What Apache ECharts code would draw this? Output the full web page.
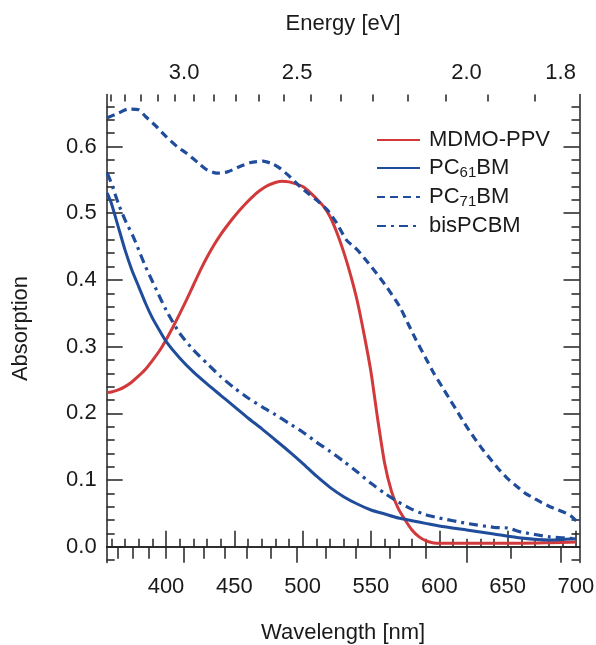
<!DOCTYPE html>
<html><head><meta charset="utf-8">
<script src="https://cdn.jsdelivr.net/npm/echarts@6/dist/echarts.min.js"></script>
<style>html,body{margin:0;padding:0;background:#fff}#c{width:596px;height:645px}</style>
</head><body><div id="c"></div>
<script>
// ---- data ----
const wlRed  = [357,360,365,370,375,380,385,390,395,400,405,410,415,420,425,430,435,440,445,450,455,460,465,470,475,480,485,490,495,500,505,510,515,520,525,530,535,540,545,550,555,560,565,570,575,580,585,590,595,600,620,650,680,700];
const absRed = [0.231,0.232,0.235,0.240,0.247,0.256,0.266,0.279,0.293,0.310,0.329,0.349,0.370,0.392,0.414,0.434,0.452,0.468,0.482,0.495,0.507,0.518,0.528,0.536,0.542,0.546,0.548,0.547,0.544,0.540,0.532,0.522,0.511,0.495,0.471,0.442,0.408,0.368,0.318,0.262,0.190,0.125,0.083,0.057,0.040,0.025,0.015,0.009,0.006,0.005,0.005,0.005,0.006,0.007];

const wlPC61  = [357,360,365,370,375,380,385,390,395,400,410,420,430,440,450,460,470,480,490,500,510,520,530,540,550,560,570,580,590,600,620,640,660,680,700];
const absPC61 = [0.530,0.515,0.480,0.445,0.415,0.390,0.365,0.343,0.325,0.308,0.283,0.262,0.244,0.227,0.210,0.193,0.177,0.160,0.143,0.125,0.106,0.089,0.075,0.064,0.055,0.049,0.043,0.039,0.035,0.031,0.025,0.019,0.013,0.010,0.012];

const wlPC71  = [357,365,372,380,385,393,400,408,415,425,430,437,445,454,462,471,478,483,490,498,505,510,518,525,532,540,547,554,562,571,577,583,590,596,602,608,614,620,626,632,638,644,650,657,663,669,675,681,687,693,697,701];
const absPC71 = [0.643,0.650,0.656,0.655,0.645,0.630,0.615,0.600,0.590,0.573,0.565,0.560,0.562,0.570,0.576,0.578,0.574,0.568,0.556,0.540,0.528,0.520,0.505,0.485,0.460,0.445,0.428,0.410,0.388,0.360,0.335,0.310,0.283,0.260,0.240,0.220,0.200,0.180,0.162,0.145,0.130,0.115,0.102,0.090,0.080,0.073,0.066,0.060,0.055,0.050,0.045,0.037];

const wlBis  = [357,360,365,370,376,380,385,390,393,400,410,420,430,440,450,460,470,480,490,500,510,520,530,540,550,560,570,580,590,600,620,640,650,660,680,700];
const absBis = [0.560,0.545,0.515,0.490,0.465,0.445,0.420,0.398,0.385,0.355,0.320,0.295,0.275,0.255,0.238,0.223,0.210,0.198,0.185,0.172,0.157,0.143,0.128,0.112,0.095,0.080,0.067,0.056,0.048,0.043,0.035,0.029,0.028,0.022,0.015,0.012];

const seriesNames = ['MDMO-PPV','PC61BM','PC71BM','bisPCBM'];
const wlTicksMajor = [400,450,500,550,600,650,700];
const wlTicksMinor = [360,370,380,390,400,410,420,430,440,450,460,470,480,490,500,510,520,530,540,550,560,570,580,590,600,610,620,630,640,650,660,670,680,690,700];
const eTicksMajor = [3.0,2.5,2.0,1.8];
const eTicksMid = [3.4,3.3,3.2,3.1,2.9,2.8,2.7,2.6,2.4,2.3,2.2,2.1,1.9];
const eTicksShort = [3.45,3.35,3.25,3.15,3.05,2.95,2.85,2.75,2.65,2.55,2.45,2.35,2.25,2.15,2.05,1.95,1.85];
const yTicksMajor = [0,0.1,0.2,0.3,0.4,0.5,0.6];
const yTicksMinor = [-0.02,0,0.02,0.04,0.06,0.08,0.1,0.12,0.14,0.16,0.18,0.2,0.22,0.24,0.26,0.28,0.3,0.32,0.34,0.36,0.38,0.4,0.42,0.44,0.46,0.48,0.5,0.52,0.54,0.56,0.58,0.6,0.62,0.64,0.66];

// ---- chart ----
const HC = 1239.84;
const toNm = e => HC / e;
const XMIN = 356.6, XMAX = 702.6, YMIN = -0.0237, YMAX = 0.678;
const FONT = 'Liberation Sans';
const FS = 22;
const TXT = '#1a1a1a';
const RED = '#d2393b', BLUE = '#1f4c9b';
const axisLineStyle = {show: true, lineStyle: {color: '#222', width: 1.5}};
const pair = (xs, ys) => xs.map((x, i) => [x, ys[i]]);

function xAx(pos, ticks, len, opts) {
  return Object.assign({
    type: 'value', position: pos, min: XMIN, max: XMAX,
    axisLine: {show: false}, splitLine: {show: false},
    axisTick: {show: true, inside: true, length: len, customValues: ticks, lineStyle: {color: '#222', width: 1.5}},
    axisLabel: {show: false}
  }, opts || {});
}
function yAx(pos, ticks, len, opts) {
  return Object.assign({
    type: 'value', position: pos, min: YMIN, max: YMAX,
    axisLine: {show: false}, splitLine: {show: false},
    axisTick: {show: true, inside: true, length: len, customValues: ticks, lineStyle: {color: '#222', width: 1.5}},
    axisLabel: {show: false}
  }, opts || {});
}

const chart = echarts.init(document.getElementById('c'), null, {renderer: 'canvas'});
chart.setOption({
  animation: false,
  backgroundColor: '#fff',
  textStyle: {fontFamily: FONT},
  grid: {left: 106.7, right: 16.5, top: 94.5, bottom: 82.5, containLabel: false, outerBoundsMode: 'none'},
  xAxis: [
    xAx('bottom', wlTicksMajor, 16, {
      axisLine: axisLineStyle,
      axisLabel: {show: true, customValues: wlTicksMajor, margin: 13, fontSize: FS, color: TXT, fontFamily: FONT},
      name: 'Wavelength [nm]', nameLocation: 'middle', nameGap: 59,
      nameTextStyle: {fontSize: FS, color: TXT, fontFamily: FONT}
    }),
    xAx('bottom', wlTicksMinor, 8),
    xAx('top', eTicksMajor.map(toNm), 16, {
      axisLine: axisLineStyle,
      axisLabel: {show: true, customValues: eTicksMajor.map(toNm), margin: 11, fontSize: FS, color: TXT, fontFamily: FONT,
        formatter: v => (HC / v).toFixed(1)},
      name: 'Energy [eV]', nameLocation: 'middle', nameGap: 60,
      nameTextStyle: {fontSize: FS, color: TXT, fontFamily: FONT}
    }),
    xAx('top', eTicksMid.map(toNm), 12),
    xAx('top', eTicksShort.map(toNm), 7)
  ],
  yAxis: [
    yAx('left', yTicksMajor, 16, {
      axisLine: axisLineStyle,
      axisLabel: {show: true, customValues: yTicksMajor, margin: 10, fontSize: FS, color: TXT, fontFamily: FONT,
        formatter: v => v.toFixed(1)},
      name: 'Absorption', nameLocation: 'middle', nameGap: 75,
      nameTextStyle: {fontSize: FS, color: TXT, fontFamily: FONT}
    }),
    yAx('left', yTicksMinor, 8),
    yAx('right', yTicksMajor, 16, {axisLine: axisLineStyle}),
    yAx('right', yTicksMinor, 8)
  ],
  legend: {
    orient: 'vertical', left: 376, top: 129, padding: 0,
    itemWidth: 43, itemHeight: 14, itemGap: 6,
    itemStyle: {opacity: 0},
    data: seriesNames,
    formatter: n => ({
      'MDMO-PPV': '{n|MDMO-PPV}',
      'PC61BM': '{n|PC}{s|61}{n|BM}',
      'PC71BM': '{n|PC}{s|71}{n|BM}',
      'bisPCBM': '{n|bisPCBM}'
    })[n],
    textStyle: {
      color: TXT, fontFamily: FONT, fontSize: FS, padding: [0, 0, 0, 4],
      rich: {
        n: {fontSize: FS, lineHeight: 24, color: TXT, fontFamily: FONT},
        s: {fontSize: 15, lineHeight: 9, verticalAlign: 'bottom', color: TXT, fontFamily: FONT}
      }
    }
  },
  series: [
    {name: seriesNames[0], type: 'line', xAxisIndex: 0, yAxisIndex: 0, data: pair(wlRed, absRed), symbol: 'none', smooth: 0.2,
      lineStyle: {color: RED, width: 3}, itemStyle: {color: RED, opacity: 0}},
    {name: seriesNames[1], type: 'line', xAxisIndex: 0, yAxisIndex: 0, data: pair(wlPC61, absPC61), symbol: 'none', smooth: 0.2,
      lineStyle: {color: BLUE, width: 3}, itemStyle: {color: BLUE, opacity: 0}},
    {name: seriesNames[2], type: 'line', xAxisIndex: 0, yAxisIndex: 0, data: pair(wlPC71, absPC71), symbol: 'none', smooth: 0.2,
      lineStyle: {color: BLUE, width: 3.2, type: [8, 5]}, itemStyle: {color: BLUE, opacity: 0}},
    {name: seriesNames[3], type: 'line', xAxisIndex: 0, yAxisIndex: 0, data: pair(wlBis, absBis), symbol: 'none', smooth: 0.2,
      lineStyle: {color: BLUE, width: 3.2, type: [9, 5, 3, 5]}, itemStyle: {color: BLUE, opacity: 0}}
  ]
});
</script>
</body></html>
